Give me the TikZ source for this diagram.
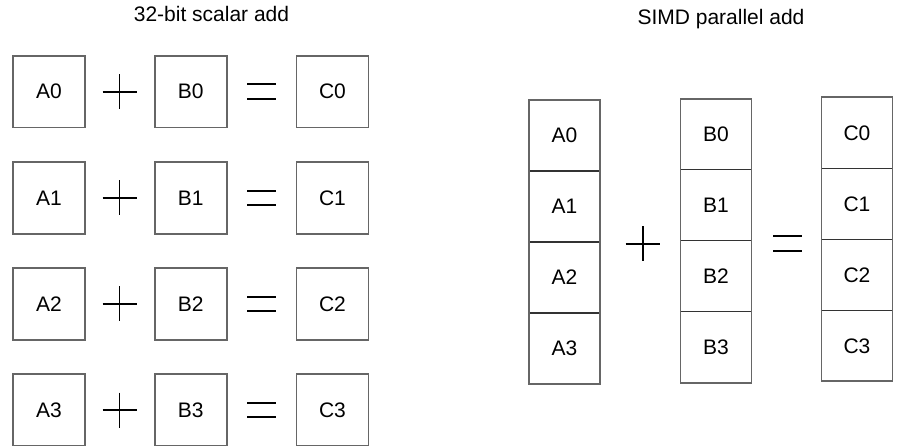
\documentclass[tikz,border=0pt]{standalone}
\usepackage{fontspec}
\setmainfont{Liberation Sans}
\usetikzlibrary{fit}
\definecolor{boxgray}{HTML}{666666}
\definecolor{divgray}{HTML}{333333}
\tikzset{
  every node/.style={font=\fontsize{21}{25}\selectfont},
  sbox/.style={draw=boxgray, line width=1.7pt, minimum width=72pt, minimum height=71.5pt, inner sep=0pt},
  cell/.style={draw=divgray, line width=1.4pt, minimum width=71pt, minimum height=71pt, inner sep=0pt, outer sep=0pt},
  outer/.style={draw=boxgray, line width=1.7pt, inner sep=0pt},
  title/.style={inner sep=0pt, anchor=base},
  symline/.style={line width=1.9pt, black},
  plussign/.pic={\draw[symline] (-17,0) -- (17,0) (0,-17.5) -- (0,17.5);},
  equalsign/.pic={\draw[symline] (-14.3,-7.3) -- (14.3,-7.3) (-14.3,7.3) -- (14.3,7.3);}
}
\begin{document}
\begin{tikzpicture}[x=1pt, y=-1pt]
\useasboundingbox (0,0) rectangle (900,446);
% titles
\node[title] (t1) at (211.5,22) {32-bit scalar add};
\node[title] (t2) at (721,25) {SIMD parallel add};
% scalar rows
\foreach \i/\y in {0/91.75, 1/198, 2/304, 3/410} {
  \node[sbox] (a\i) at (49,\y) {A\i};
  \node[sbox] (b\i) at (190.7,\y) {B\i};
  \node[sbox] (c\i) at (332.5,\y) {C\i};
  \pic at (119.5,\y) {plussign};
  \pic at (261.7,\y) {equalsign};
}
% SIMD columns
\foreach \i in {0,1,2,3} {
  \node[cell] (sa\i) at (564.5,{100+35.5+71*\i}) {A\i};
  \node[cell] (sb\i) at (716,{98.7+35.5+71*\i}) {B\i};
  \node[cell] (sc\i) at (857,{97.3+35.5+71*\i}) {C\i};
}
\node[outer, fit=(sa0)(sa3)] (saout) {};
\node[outer, fit=(sb0)(sb3)] (sbout) {};
\node[outer, fit=(sc0)(sc3)] (scout) {};
\pic at (642.7,243.7) {plussign};
\pic at (787.5,243.7) {equalsign};
\end{tikzpicture}
\end{document}
